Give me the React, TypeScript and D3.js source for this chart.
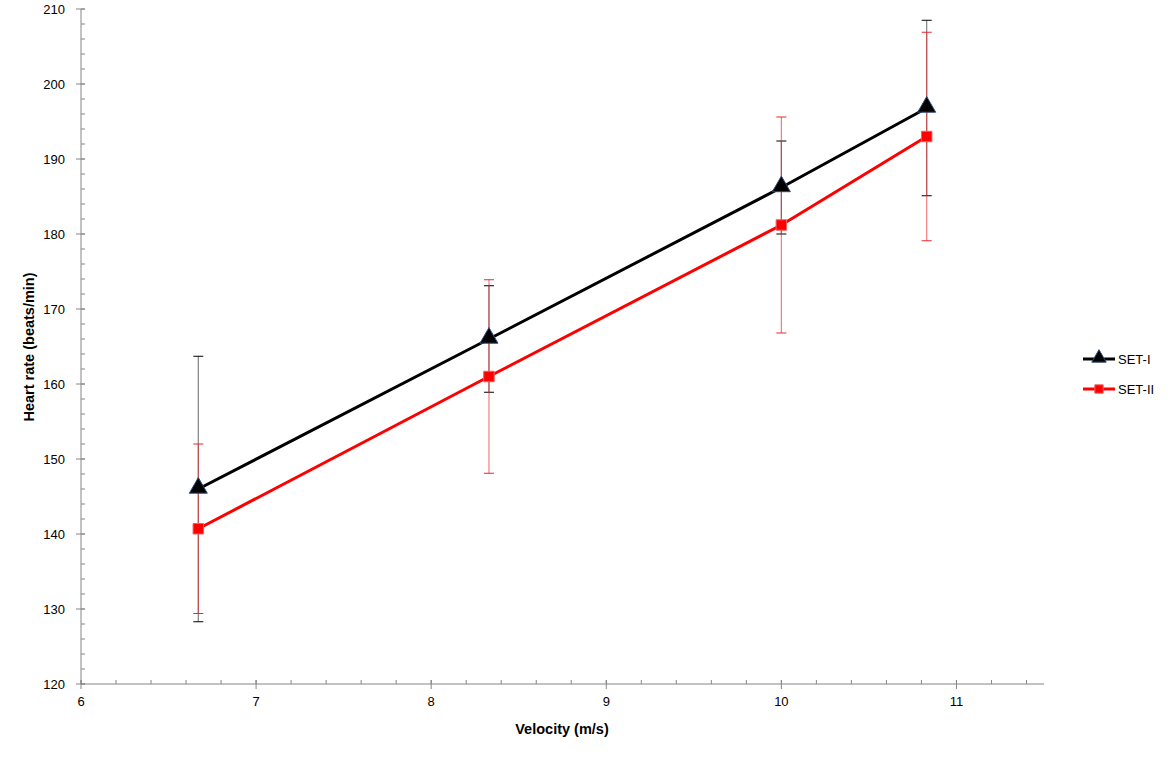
import React from "react";
import * as d3 from "d3";

const velocity = [6.67, 8.33, 10, 10.83];
const set1 = [146.0, 166.0, 186.2, 196.8];
const set1Err = [17.7, 7.1, 6.2, 11.7];
const set2 = [140.7, 161.0, 181.2, 193.0];
const set2Err = [11.3, 12.9, 14.4, 13.9];
const xTicks = [6, 7, 8, 9, 10, 11];
const yTicks = [120, 130, 140, 150, 160, 170, 180, 190, 200, 210];
const seriesNames = ["SET-I", "SET-II"];

const W = 1169, H = 758;
const L = 81, R = 1044, T = 9, B = 684;
const FONT = "'Liberation Sans', Arial, sans-serif";

export default function App() {
  const x = d3.scaleLinear().domain([6, 11.5]).range([L, R]);
  const y = d3.scaleLinear().domain([120, 210]).range([B, T]);
  const line = d3.line<number>().x((_, i) => x(velocity[i])).y(v => y(v));
  const xMinor = d3.range(6, 11.5001, 0.2);
  const yMinor = d3.range(120, 210.001, 2);
  const cap = 5;

  const tri = d3.symbol().type(d3.symbolTriangle).size(140)();
  const sq = d3.symbol().type(d3.symbolSquare).size(110)();

  return (
    <svg width={W} height={H} style={{ position: "absolute", left: 0, top: 0, background: "#fff" }}>
      {/* axes */}
      <line x1={L} x2={R} y1={B} y2={B} stroke="#868686" strokeWidth={1} />
      <line x1={L} x2={L} y1={T} y2={B} stroke="#868686" strokeWidth={1} />
      {xMinor.map((v, i) => (
        <line key={"xm" + i} x1={x(v)} x2={x(v)} y1={B - 4} y2={B} stroke="#868686" />
      ))}
      {xTicks.map(v => (
        <g key={"xt" + v}>
          <line x1={x(v)} x2={x(v)} y1={B - 4} y2={B + 5} stroke="#868686" />
          <text x={x(v)} y={B + 22} textAnchor="middle" fontFamily={FONT} fontSize={13} fill="#000">{v}</text>
        </g>
      ))}
      {yMinor.map((v, i) => (
        <line key={"ym" + i} x1={L} x2={L + 4} y1={y(v)} y2={y(v)} stroke="#868686" />
      ))}
      {yTicks.map(v => (
        <g key={"yt" + v}>
          <line x1={L - 5} x2={L + 4} y1={y(v)} y2={y(v)} stroke="#868686" />
          <text x={L - 16} y={y(v) + 5} textAnchor="end" fontFamily={FONT} fontSize={13} fill="#000">{v}</text>
        </g>
      ))}
      <text x={562} y={734} textAnchor="middle" fontFamily={FONT} fontSize={14.5} fontWeight="bold">Velocity (m/s)</text>
      <text transform={`translate(34,${347}) rotate(-90)`} textAnchor="middle" fontFamily={FONT} fontSize={14.5} fontWeight="bold">Heart rate (beats/min)</text>

      {/* error bars SET-I */}
      {velocity.map((v, i) => (
        <g key={"e1" + i}>
          <line x1={x(v)} x2={x(v)} y1={y(set1[i] + set1Err[i])} y2={y(set1[i] - set1Err[i])} stroke="#808080" strokeWidth={1.2} />
          <line x1={x(v) - cap} x2={x(v) + cap} y1={y(set1[i] + set1Err[i])} y2={y(set1[i] + set1Err[i])} stroke="#000" />
          <line x1={x(v) - cap} x2={x(v) + cap} y1={y(set1[i] - set1Err[i])} y2={y(set1[i] - set1Err[i])} stroke="#000" />
        </g>
      ))}
      {/* error bars SET-II */}
      {velocity.map((v, i) => (
        <g key={"e2" + i}>
          <line x1={x(v)} x2={x(v)} y1={y(set2[i] + set2Err[i])} y2={y(set2[i] - set2Err[i])} stroke="#e8282b" strokeOpacity={0.6} strokeWidth={1.2} />
          <line x1={x(v) - cap} x2={x(v) + cap} y1={y(set2[i] + set2Err[i])} y2={y(set2[i] + set2Err[i])} stroke="#e8282b" />
          <line x1={x(v) - cap} x2={x(v) + cap} y1={y(set2[i] - set2Err[i])} y2={y(set2[i] - set2Err[i])} stroke="#e8282b" />
        </g>
      ))}

      {/* lines */}
      <path d={line(set1) || ""} fill="none" stroke="#000" strokeWidth={3} />
      <path d={line(set2) || ""} fill="none" stroke="#ff0000" strokeWidth={3} />
      {set1.map((v, i) => (
        <path key={"m1" + i} d={tri || ""} transform={`translate(${x(velocity[i])},${y(v) - 1})`} fill="#000" stroke="#2b4a7a" strokeWidth={1} />
      ))}
      {set2.map((v, i) => (
        <path key={"m2" + i} d={sq || ""} transform={`translate(${x(velocity[i])},${y(v)})`} fill="#ff0000" stroke="#f06060" strokeWidth={1} />
      ))}

      {/* legend */}
      {seriesNames.map((n, i) => {
        const ly = 359 + i * 30;
        return (
          <g key={n}>
            <line x1={1083} x2={1115} y1={ly} y2={ly} stroke={i === 0 ? "#000" : "#ff0000"} strokeWidth={3} />
            {i === 0 ? (
              <path d={d3.symbol().type(d3.symbolTriangle).size(90)() || ""} transform={`translate(1099,${ly - 1})`} fill="#000" stroke="#2b4a7a" />
            ) : (
              <path d={d3.symbol().type(d3.symbolSquare).size(70)() || ""} transform={`translate(1099,${ly})`} fill="#ff0000" stroke="#f06060" />
            )}
            <text x={1118} y={ly + 5} fontFamily={FONT} fontSize={13} fill="#000">{n}</text>
          </g>
        );
      })}
    </svg>
  );
}
